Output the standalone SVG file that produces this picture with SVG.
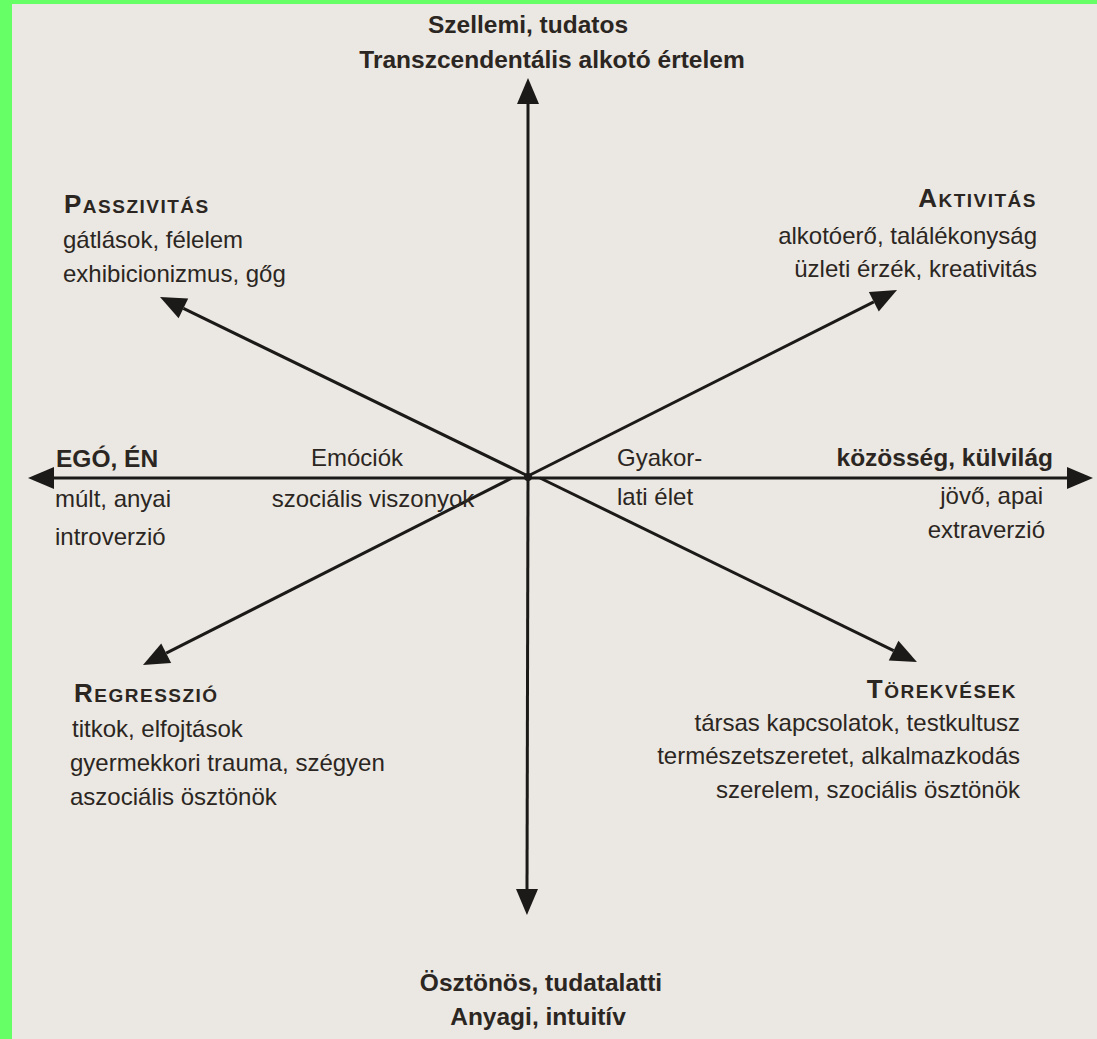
<svg xmlns="http://www.w3.org/2000/svg" width="1097" height="1039" viewBox="0 0 1097 1039">
<style>
text{font-family:"Liberation Sans",Arial,sans-serif;fill:#2b2621}
.b{font-size:24.5px;font-weight:bold}
.r{font-size:24px}
.h{font-weight:bold;letter-spacing:1.5px}
.big{font-size:26px}
.sm{font-size:19px}
.ax{stroke:#1c1a18;stroke-width:3;fill:none}
.e{text-anchor:end}
.m{text-anchor:middle}
</style>
<defs>
<marker id="ah" markerUnits="userSpaceOnUse" viewBox="0 -11 26 22" markerWidth="26" markerHeight="22" refX="0" refY="0" orient="auto" overflow="visible">
<path d="M0,-11 L26,0 L0,11 Z" fill="#1c1a18"/>
</marker>
</defs>
<rect x="0" y="0" width="1097" height="1039" fill="#ebe8e3"/>
<rect x="0" y="0" width="1097" height="4" fill="#66ff66"/>
<rect x="0" y="0" width="12" height="1039" fill="#66ff66"/>
<g id="connectors">
<line class="ax" x1="528" y1="478" x2="528" y2="104" marker-end="url(#ah)"/>
<line class="ax" x1="528" y1="478" x2="527" y2="889" marker-end="url(#ah)"/>
<line class="ax" x1="528" y1="478" x2="54" y2="478" marker-end="url(#ah)"/>
<line class="ax" x1="528" y1="478" x2="1067" y2="478" marker-end="url(#ah)"/>
<line class="ax" x1="528" y1="476" x2="183.4" y2="308.4" marker-end="url(#ah)"/>
<line class="ax" x1="528" y1="476" x2="873.8" y2="301.8" marker-end="url(#ah)"/>
<line class="ax" x1="512" y1="478" x2="166.2" y2="653.2" marker-end="url(#ah)"/>
<line class="ax" x1="540" y1="478" x2="893.6" y2="650.6" marker-end="url(#ah)"/>
<circle cx="528" cy="477" r="4" fill="#1c1a18"/>
</g>
<g id="top">
<text class="b m" x="528" y="33">Szellemi, tudatos</text>
<text class="b m" x="552" y="68">Transzcendentális alkotó értelem</text>
</g>
<g id="passzivitas">
<text class="h" x="64" y="213"><tspan class="big">P</tspan><tspan class="sm">ASSZIVITÁS</tspan></text>
<text class="r" x="63" y="248">gátlások, félelem</text>
<text class="r" x="63" y="282">exhibicionizmus, gőg</text>
</g>
<g id="aktivitas">
<text class="h e" x="1037" y="207"><tspan class="big">A</tspan><tspan class="sm">KTIVITÁS</tspan></text>
<text class="r e" x="1037" y="244">alkotóerő, találékonyság</text>
<text class="r e" x="1037" y="277">üzleti érzék, kreativitás</text>
</g>
<g id="ego">
<text class="b" x="56" y="467">EGÓ, ÉN</text>
<text class="r" x="55" y="507">múlt, anyai</text>
<text class="r" x="55" y="545">introverzió</text>
</g>
<g id="emociok">
<text class="r m" x="357" y="466">Emóciók</text>
<text class="r m" x="373" y="507">szociális viszonyok</text>
</g>
<g id="gyakorlati">
<text class="r" x="617" y="466">Gyakor-</text>
<text class="r" x="617" y="505">lati élet</text>
</g>
<g id="kozosseg">
<text class="b e" x="1053" y="466">közösség, külvilág</text>
<text class="r e" x="1043" y="504">jövő, apai</text>
<text class="r e" x="1045" y="538">extraverzió</text>
</g>
<g id="regresszio">
<text class="h" x="74" y="702"><tspan class="big">R</tspan><tspan class="sm">EGRESSZIÓ</tspan></text>
<text class="r" x="72" y="737">titkok, elfojtások</text>
<text class="r" x="70" y="771">gyermekkori trauma, szégyen</text>
<text class="r" x="70" y="805">aszociális ösztönök</text>
</g>
<g id="torekvesek">
<text class="h e" x="1017" y="698"><tspan class="big">T</tspan><tspan class="sm">ÖREKVÉSEK</tspan></text>
<text class="r e" x="1020" y="731">társas kapcsolatok, testkultusz</text>
<text class="r e" x="1020" y="764">természetszeretet, alkalmazkodás</text>
<text class="r e" x="1020" y="798">szerelem, szociális ösztönök</text>
</g>
<g id="bottom">
<text class="b m" x="541" y="991">Ösztönös, tudatalatti</text>
<text class="b m" x="538" y="1025">Anyagi, intuitív</text>
</g>
</svg>
